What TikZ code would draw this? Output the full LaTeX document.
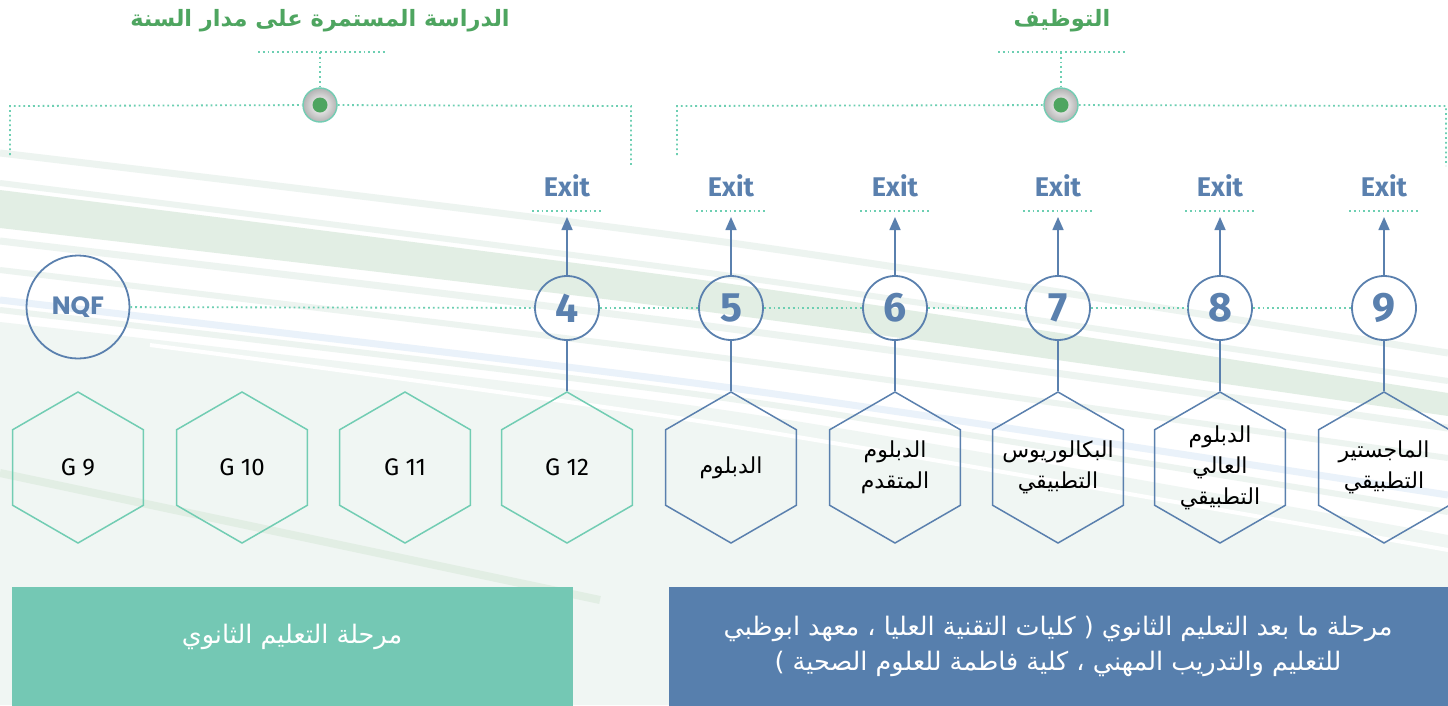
\documentclass[tikz,border=0pt]{standalone}
\usepackage{fontspec}
\setmainfont{DejaVu Sans}
\newfontfamily\arabicfont[Script=Arabic]{DejaVu Sans}
\newfontfamily\firafont{Fira Sans}
\newfontfamily\popfont{Poppins}
\TeXXeTstate=1
\usetikzlibrary{shapes.geometric,arrows.meta}
\definecolor{bluemain}{HTML}{5A80AE}
\definecolor{tealdot}{HTML}{6DCFB2}
\definecolor{hexgreen}{HTML}{72CDB3}
\definecolor{titlegreen}{HTML}{4EA560}
\definecolor{boxgreen}{HTML}{74C8B4}
\definecolor{boxblue}{HTML}{577FAD}
\definecolor{lightbg}{HTML}{F0F6F3}
\definecolor{stripec}{HTML}{EDF4F0}
\definecolor{bandgreen}{HTML}{E2EEE4}
\definecolor{paleblue}{HTML}{EAF2FA}
\newcommand{\artxt}[1]{{\arabicfont\beginR #1\endR}}
\newcommand{\hxl}[1]{\makebox[0pt]{\artxt{#1}}}
\begin{document}
\begin{tikzpicture}[x=1pt,y=-1pt,
  dotline/.style={draw=tealdot, line width=1.8pt, dash pattern=on 1.8pt off 3pt},
  blueline/.style={draw=bluemain, line width=1.6pt},
  arrowline/.style={draw=bluemain, line width=1.6pt, -{Triangle[length=13pt,width=11pt]}},
  numc/.style={circle, draw=bluemain, line width=1.8pt, minimum size=64pt, inner sep=0pt,
    text=bluemain, font=\firafont\bfseries\fontsize{41}{41}\selectfont},
  nqfc/.style={circle, draw=bluemain, line width=1.8pt, minimum size=103pt, inner sep=0pt,
    text=bluemain, font=\popfont\bfseries\fontsize{25}{25}\selectfont},
  exitlbl/.style={text=bluemain, font=\firafont\bfseries\fontsize{27}{27}\selectfont},
  hexbase/.style={regular polygon, regular polygon sides=6, shape border rotate=30,
    minimum size=151pt, inner sep=0pt, line width=1.5pt, align=center},
  hexg/.style={hexbase, draw=hexgreen, font=\firafont\fontsize{24}{24}\selectfont},
  hexb/.style={hexbase, draw=bluemain, font=\arabicfont\fontsize{22}{31}\selectfont},
  titlestyle/.style={text=titlegreen, font=\arabicfont\bfseries\fontsize{22.5}{22.5}\selectfont},
  centerdot/.style={circle, minimum size=34pt, inner sep=0pt, draw=hexgreen, line width=1.4pt,
    inner color=white, outer color=black!30,
    path picture={\fill[titlegreen] (path picture bounding box.center) circle (7.5pt);}},
  boxtext/.style={text=white, align=center, font=\arabicfont\fontsize{25.5}{35}\selectfont}
]
\useasboundingbox (0,0) rectangle (1448,705);
% ---------- background ----------
\fill[white] (0,0) rectangle (1448,705);
\fill[lightbg] plot[smooth] coordinates {(0,322) (724,410) (1448,535)} -- (1448,705) -- (0,705) -- cycle;
\draw[stripec, line width=7pt] plot[smooth] coordinates {(0,153) (724,242) (1448,353)};
\draw[stripec, line width=6pt] plot[smooth] coordinates {(0,183) (724,275) (1448,381)};
\fill[bandgreen] plot[smooth] coordinates {(0,190) (724,283) (1448,393)} -- plot[smooth] coordinates {(1448,416) (724,314) (0,228)} -- cycle;
\draw[stripec, line width=7pt] plot[smooth] coordinates {(0,241) (724,328) (1448,428)};
\draw[stripec, line width=6pt] plot[smooth] coordinates {(0,270) (724,358) (1448,458)};
\draw[paleblue, line width=7pt] plot[smooth] coordinates {(0,300) (724,387) (1448,495)};
\draw[stripec, line width=6pt] plot[smooth] coordinates {(0,310) (724,398) (1448,512)};
\draw[white, line width=4pt] plot[smooth] coordinates {(150,345) (724,425) (1448,550)};
\draw[bandgreen, line width=8pt] (0,473) -- (600,600);

% ---------- top brackets ----------
\node[titlestyle] (ttl1) at (320,21) {\artxt{الدراسة المستمرة على مدار السنة}};
\node[titlestyle] (ttl2) at (1062,21) {\artxt{التوظيف}};

\coordinate (a1l) at (258,52); \coordinate (a1r) at (386,52); \coordinate (a1m) at (320,52);
\coordinate (a2l) at (998,52); \coordinate (a2r) at (1127,52); \coordinate (a2m) at (1061,52);
\node[centerdot] (k1) at (320,105) {};
\node[centerdot] (k2) at (1061,105) {};
\coordinate (b1a) at (10,155); \coordinate (b1b) at (10,106);
\coordinate (b1c) at (631,106); \coordinate (b1d) at (631,167);
\coordinate (b2a) at (677,155); \coordinate (b2b) at (677,106);
\coordinate (b2c) at (1446,106); \coordinate (b2d) at (1446,166);
\draw[dotline] (a1l) -- (a1r);
\draw[dotline] (a2l) -- (a2r);
\draw[dotline] (a1m) -- (k1);
\draw[dotline] (a2m) -- (k2);
\draw[dotline] (b1a) -- (b1b) -- (k1);
\draw[dotline] (k1) -- (b1c) -- (b1d);
\draw[dotline] (b2a) -- (b2b) -- (k2);
\draw[dotline] (k2) -- (b2c) -- (b2d);

% ---------- NQF row ----------
\node[nqfc] (nqf) at (78,307) {NQF};
\foreach \n/\x in {4/567,5/731,6/895,7/1058,8/1220,9/1384}{
  \node[numc] (c\n) at (\x,308) {\n};
  \node[exitlbl] (e\n) at (\x,186) {Exit};
  \coordinate (ul\n) at (\x-35,211);
  \coordinate (ur\n) at (\x+36,211);
  \coordinate (tip\n) at (\x,217);
  \draw[dotline] (ul\n) -- (ur\n);
  \draw[arrowline] (c\n) -- (tip\n);
}
\draw[dotline] (nqf) -- (c4);
\draw[dotline] (c4) -- (c5);
\draw[dotline] (c5) -- (c6);
\draw[dotline] (c6) -- (c7);
\draw[dotline] (c7) -- (c8);
\draw[dotline] (c8) -- (c9);

% ---------- hexagons ----------
\node[hexg] (g9) at (78,467.5) {G 9};
\node[hexg] (g10) at (242,467.5) {G 10};
\node[hexg] (g11) at (405,467.5) {G 11};
\node[hexg] (h4) at (567,467.5) {G 12};
\node[hexb] (h5) at (731,467.5) {\hxl{الدبلوم}};
\node[hexb] (h6) at (895,467.5) {\hxl{الدبلوم}\\\hxl{المتقدم}};
\node[hexb] (h7) at (1058,467.5) {\hxl{البكالوريوس}\\\hxl{التطبيقي}};
\node[hexb] (h8) at (1220,467.5) {\hxl{الدبلوم}\\\hxl{العالي}\\\hxl{التطبيقي}};
\node[hexb] (h9) at (1384,467.5) {\hxl{الماجستير}\\\hxl{التطبيقي}};
\foreach \n in {4,...,9}{
  \draw[blueline] (c\n) -- (h\n.north);
}

% ---------- bottom boxes ----------
\node[fill=boxgreen, minimum width=561pt, minimum height=120pt, inner sep=0pt, anchor=north west] (boxg) at (12,587) {};
\node[fill=boxblue, minimum width=780pt, minimum height=120pt, inner sep=0pt, anchor=north west] (boxb) at (669,587) {};
\node[boxtext] (txg) at (292,637) {\artxt{مرحلة التعليم الثانوي}};
\node[boxtext] (txb) at (1058,646) {\artxt{مرحلة ما بعد التعليم الثانوي ( كليات التقنية العليا ، معهد ابوظبي}\\\artxt{للتعليم والتدريب المهني ، كلية فاطمة للعلوم الصحية )}};
\end{tikzpicture}
\end{document}
